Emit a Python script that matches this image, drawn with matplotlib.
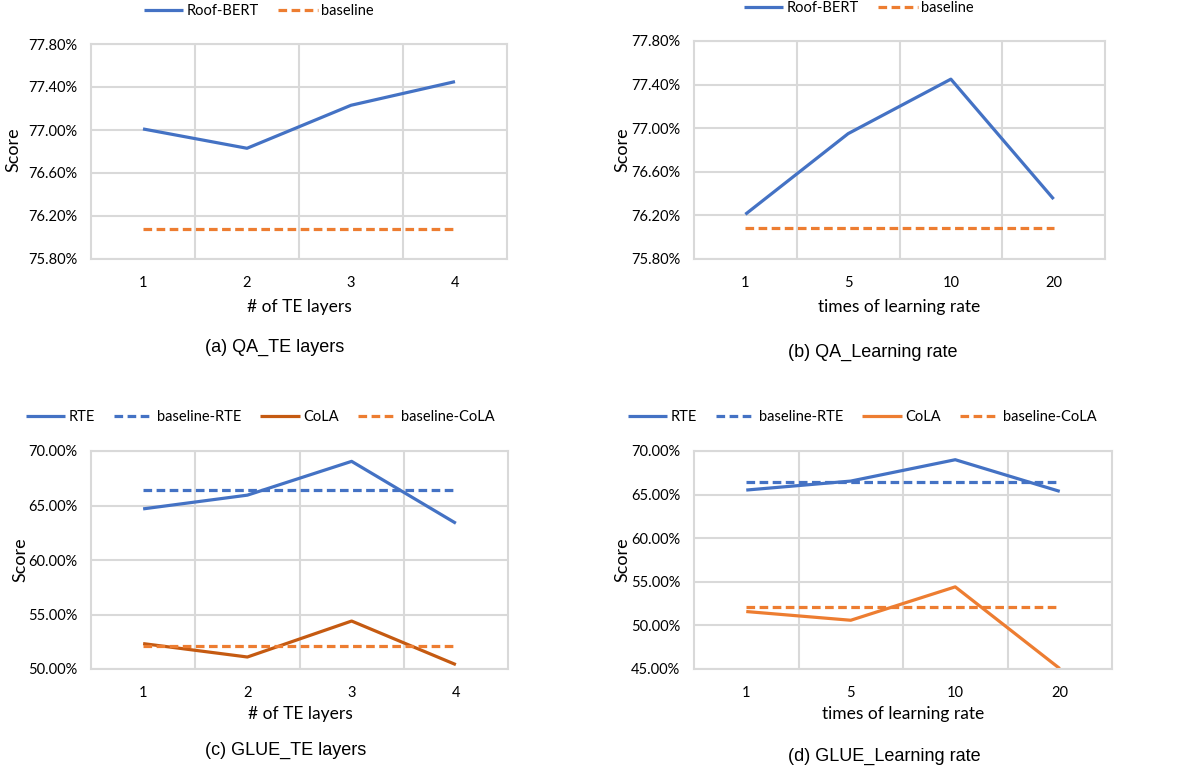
import matplotlib.pyplot as plt
from matplotlib.ticker import FuncFormatter, FixedLocator

W, H = 1178, 769

BLUE = '#4472C4'
ORANGE = '#ED7D31'
DARK_ORANGE = '#C55A11'
GRID = '#D9D9D9'

# data (scores in %)
te_layers = ['1', '2', '3', '4']
lr_times = ['1', '5', '10', '20']

qa_te_roof = [77.01, 76.83, 77.23, 77.45]
qa_te_base = [76.08, 76.08, 76.08, 76.08]

qa_lr_roof = [76.21, 76.95, 77.45, 76.35]
qa_lr_base = [76.08, 76.08, 76.08, 76.08]

glue_te_rte = [64.69, 65.95, 69.05, 63.37]
glue_te_rte_base = [66.41, 66.41, 66.41, 66.41]
glue_te_cola = [52.33, 51.10, 54.40, 50.40]
glue_te_cola_base = [52.10, 52.10, 52.10, 52.10]

glue_lr_rte = [65.52, 66.55, 69.00, 65.37]
glue_lr_rte_base = [66.40, 66.40, 66.40, 66.40]
glue_lr_cola = [51.59, 50.59, 54.42, 45.05]
glue_lr_cola_base = [52.09, 52.09, 52.09, 52.09]

FONT = 'Lato'
CAP_FONT = 'Liberation Sans'


def fx(x):
    return x / W


def fy(y):
    return 1 - y / H


fig = plt.figure(figsize=(W / 100, H / 100), dpi=100)


def panel(rect, cats, series, yticks, legend_xy, score_xy, xlabel, xlabel_xy,
          caption, caption_xy):
    l, t, r, b = rect
    ax = fig.add_axes([fx(l), fy(b), fx(r - l), (b - t) / H])
    x = list(range(len(cats)))
    for vals, color, dashed, label in series:
        line, = ax.plot(x, vals, color=color, lw=2.3, label=label,
                        solid_capstyle='butt')
        if dashed:
            line.set_dashes((2.7, 1.4))
    ax.set_xlim(-0.5, len(cats) - 0.5)
    ax.set_ylim(yticks[0], yticks[-1])
    ax.set_xticks(x)
    ax.set_xticklabels(cats, fontfamily=FONT, fontsize=10.5)
    ax.xaxis.set_minor_locator(FixedLocator([i + 0.5 for i in x[:-1]]))
    ax.set_yticks(yticks)
    ax.yaxis.set_major_formatter(FuncFormatter(lambda v, p: f'{v:.2f}%'))
    for lab in ax.get_yticklabels():
        lab.set_fontfamily(FONT)
        lab.set_fontsize(10.5)
    ax.tick_params(axis='both', which='both', length=0)
    ax.tick_params(axis='x', pad=12)
    ax.tick_params(axis='y', pad=10)
    ax.grid(True, axis='y', which='major', color=GRID, lw=1.5)
    ax.grid(True, axis='x', which='minor', color=GRID, lw=1.5)
    ax.set_axisbelow(True)
    for s in ax.spines.values():
        s.set_color(GRID)
        s.set_linewidth(1.5)
    ax.legend(loc='center', bbox_to_anchor=(fx(legend_xy[0]), fy(legend_xy[1])),
              bbox_transform=fig.transFigure, ncol=len(series), frameon=False,
              handlelength=2.7, handletextpad=0.25, columnspacing=1.3,
              prop={'family': FONT, 'size': 10.5})
    fig.text(fx(score_xy[0]), fy(score_xy[1]), 'Score', rotation=90,
             ha='center', va='center', fontfamily=FONT, fontsize=13)
    fig.text(fx(xlabel_xy[0]), fy(xlabel_xy[1]), xlabel, ha='center',
             va='center', fontfamily=FONT, fontsize=12.5)
    fig.text(fx(caption_xy[0]), fy(caption_xy[1]), caption, ha='center',
             va='center', fontfamily=CAP_FONT, fontsize=13)
    return ax


qa_ticks = [75.8, 76.2, 76.6, 77.0, 77.4, 77.8]

panel((91, 44, 507, 259), te_layers,
      [(qa_te_roof, BLUE, False, 'Roof-BERT'),
       (qa_te_base, ORANGE, True, 'baseline')],
      qa_ticks, (259, 11), (13, 150), '# of TE layers', (299, 307),
      '(a) QA_TE layers', (275, 347))

panel((694, 41, 1105, 259), lr_times,
      [(qa_lr_roof, BLUE, False, 'Roof-BERT'),
       (qa_lr_base, ORANGE, True, 'baseline')],
      qa_ticks, (859, 8), (622, 150), 'times of learning rate', (899, 307),
      '(b) QA_Learning rate', (873, 352))

panel((91, 451, 508, 669), te_layers,
      [(glue_te_rte, BLUE, False, 'RTE'),
       (glue_te_rte_base, BLUE, True, 'baseline-RTE'),
       (glue_te_cola, DARK_ORANGE, False, 'CoLA'),
       (glue_te_cola_base, ORANGE, True, 'baseline-CoLA')],
      [50, 55, 60, 65, 70], (260, 417), (20, 560), '# of TE layers', (300, 714),
      '(c) GLUE_TE layers', (286, 750))

panel((694, 451, 1112, 669), lr_times,
      [(glue_lr_rte, BLUE, False, 'RTE'),
       (glue_lr_rte_base, BLUE, True, 'baseline-RTE'),
       (glue_lr_cola, ORANGE, False, 'CoLA'),
       (glue_lr_cola_base, ORANGE, True, 'baseline-CoLA')],
      [45, 50, 55, 60, 65, 70], (862, 417), (622, 560), 'times of learning rate',
      (903, 714), '(d) GLUE_Learning rate', (884, 756))

fig.savefig('out.png', dpi=100)
